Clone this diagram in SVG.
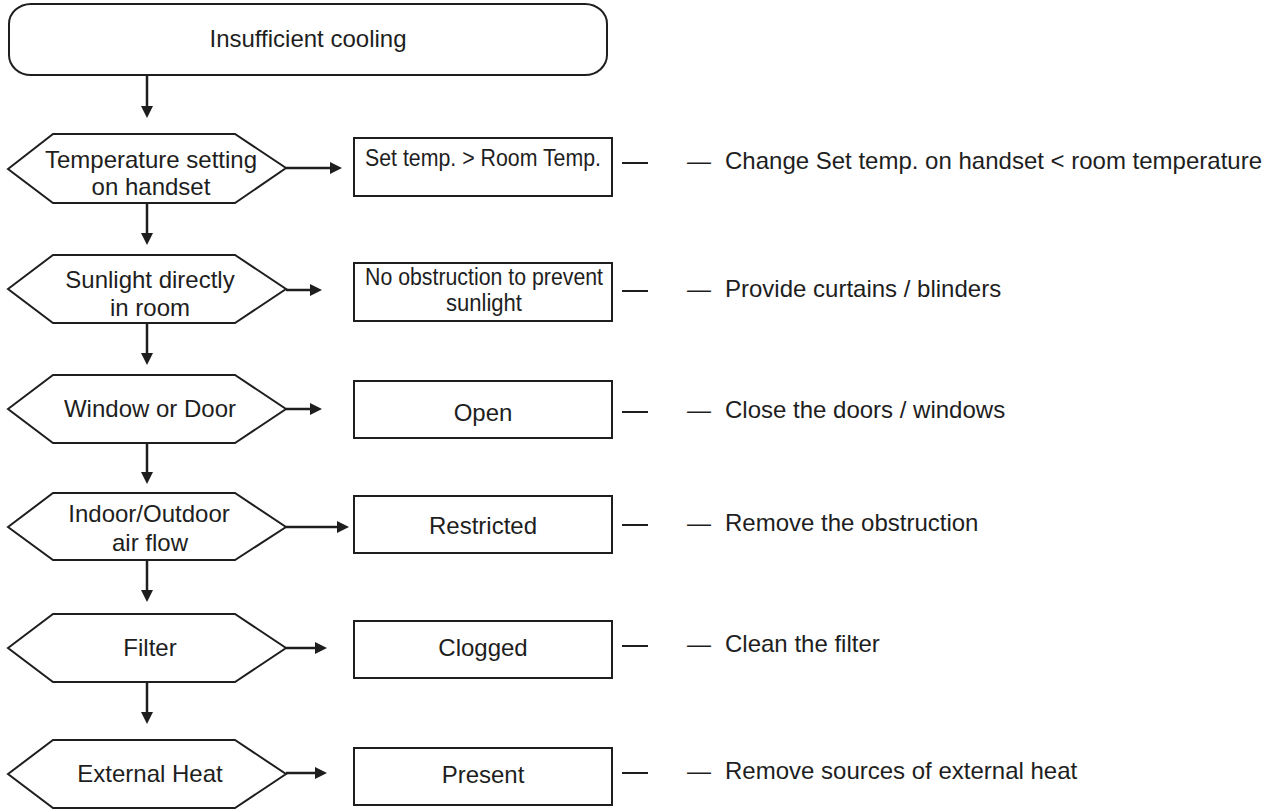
<svg xmlns="http://www.w3.org/2000/svg" width="1275" height="810" viewBox="0 0 1275 810">
<defs>
<style>
.shape{fill:#fff;stroke:#1e1e1e;stroke-width:2}
.t{font-family:"Liberation Sans",Arial,sans-serif;font-size:24px;fill:#1e1e1e;text-anchor:middle}
.s{font-size:23px}
.r{font-family:"Liberation Sans",Arial,sans-serif;font-size:24px;fill:#1e1e1e}
.conn{stroke:#1e1e1e;stroke-width:2.5;fill:none}
.dash{stroke:#1e1e1e;stroke-width:2;fill:none}
</style>
<marker id="ah" markerUnits="userSpaceOnUse" markerWidth="12" markerHeight="12" refX="0" refY="6" orient="auto">
<path d="M0,0 L12,6 L0,12 Z" fill="#1e1e1e"/>
</marker>
</defs>
<rect width="1275" height="810" fill="#fff"/>

<g id="connectors">
<line class="conn" x1="147" y1="75" x2="147" y2="106" marker-end="url(#ah)"/>
<line class="conn" x1="147" y1="203" x2="147" y2="233" marker-end="url(#ah)"/>
<line class="conn" x1="147" y1="323" x2="147" y2="353" marker-end="url(#ah)"/>
<line class="conn" x1="147" y1="443" x2="147" y2="472" marker-end="url(#ah)"/>
<line class="conn" x1="147" y1="560" x2="147" y2="590" marker-end="url(#ah)"/>
<line class="conn" x1="147" y1="682" x2="147" y2="712" marker-end="url(#ah)"/>
<line class="conn" x1="286" y1="168" x2="330" y2="168" marker-end="url(#ah)"/>
<line class="conn" x1="286" y1="290" x2="310" y2="290" marker-end="url(#ah)"/>
<line class="conn" x1="286" y1="409" x2="310" y2="409" marker-end="url(#ah)"/>
<line class="conn" x1="286" y1="527" x2="337" y2="527" marker-end="url(#ah)"/>
<line class="conn" x1="286" y1="648" x2="315" y2="648" marker-end="url(#ah)"/>
<line class="conn" x1="286" y1="773" x2="315" y2="773" marker-end="url(#ah)"/>
<line class="dash" x1="622" y1="163" x2="648" y2="163"/>
<line class="dash" x1="622" y1="291" x2="648" y2="291"/>
<line class="dash" x1="622" y1="412" x2="648" y2="412"/>
<line class="dash" x1="622" y1="525" x2="648" y2="525"/>
<line class="dash" x1="622" y1="646" x2="648" y2="646"/>
<line class="dash" x1="622" y1="773" x2="648" y2="773"/>
</g>

<g id="start">
<rect class="shape" x="9" y="4" width="598" height="71" rx="22" ry="20"/>
<text class="t" x="308" y="47">Insufficient cooling</text>
</g>

<g id="q1">
<polygon class="shape" points="8,169 53,134 235,134 286,168 235,203 53,203"/>
<text class="t" x="151" y="168">Temperature setting</text>
<text class="t" x="151" y="195">on handset</text>
</g>
<g id="a1">
<rect class="shape" x="354" y="138" width="258" height="58"/>
<text class="t s" x="483" y="166" textLength="236" lengthAdjust="spacingAndGlyphs">Set temp. &gt; Room Temp.</text>
</g>
<g id="f1"><text class="r" x="687" y="169">— <tspan x="725">Change Set temp. on handset &lt; room temperature</tspan></text></g>

<g id="q2">
<polygon class="shape" points="8,289 53,255 235,255 286,289 235,323 53,323"/>
<text class="t" x="150" y="288">Sunlight directly</text>
<text class="t" x="150" y="316">in room</text>
</g>
<g id="a2">
<rect class="shape" x="354" y="263" width="258" height="58"/>
<text class="t s" x="484" y="285" textLength="238" lengthAdjust="spacingAndGlyphs">No obstruction to prevent</text>
<text class="t s" x="484" y="311" textLength="76" lengthAdjust="spacingAndGlyphs">sunlight</text>
</g>
<g id="f2"><text class="r" x="687" y="297">— <tspan x="725">Provide curtains / blinders</tspan></text></g>

<g id="q3">
<polygon class="shape" points="8,409 53,375 235,375 286,409 235,443 53,443"/>
<text class="t" x="150" y="417">Window or Door</text>
</g>
<g id="a3">
<rect class="shape" x="354" y="381" width="258" height="57"/>
<text class="t" x="483" y="421">Open</text>
</g>
<g id="f3"><text class="r" x="687" y="418">— <tspan x="725">Close the doors / windows</tspan></text></g>

<g id="q4">
<polygon class="shape" points="8,527 53,493 235,493 286,527 235,560 53,560"/>
<text class="t" x="149" y="522">Indoor/Outdoor</text>
<text class="t" x="150" y="551">air flow</text>
</g>
<g id="a4">
<rect class="shape" x="354" y="496" width="258" height="57"/>
<text class="t" x="483" y="534">Restricted</text>
</g>
<g id="f4"><text class="r" x="687" y="531">— <tspan x="725">Remove the obstruction</tspan></text></g>

<g id="q5">
<polygon class="shape" points="8,648 53,614 235,614 286,648 235,682 53,682"/>
<text class="t" x="150" y="656">Filter</text>
</g>
<g id="a5">
<rect class="shape" x="354" y="621" width="258" height="57"/>
<text class="t" x="483" y="656">Clogged</text>
</g>
<g id="f5"><text class="r" x="687" y="652">— <tspan x="725">Clean the filter</tspan></text></g>

<g id="q6">
<polygon class="shape" points="8,774 53,740 235,740 286,774 235,808 53,808"/>
<text class="t" x="150" y="782">External Heat</text>
</g>
<g id="a6">
<rect class="shape" x="354" y="748" width="258" height="57"/>
<text class="t" x="483" y="783">Present</text>
</g>
<g id="f6"><text class="r" x="687" y="779">— <tspan x="725">Remove sources of external heat</tspan></text></g>
</svg>
